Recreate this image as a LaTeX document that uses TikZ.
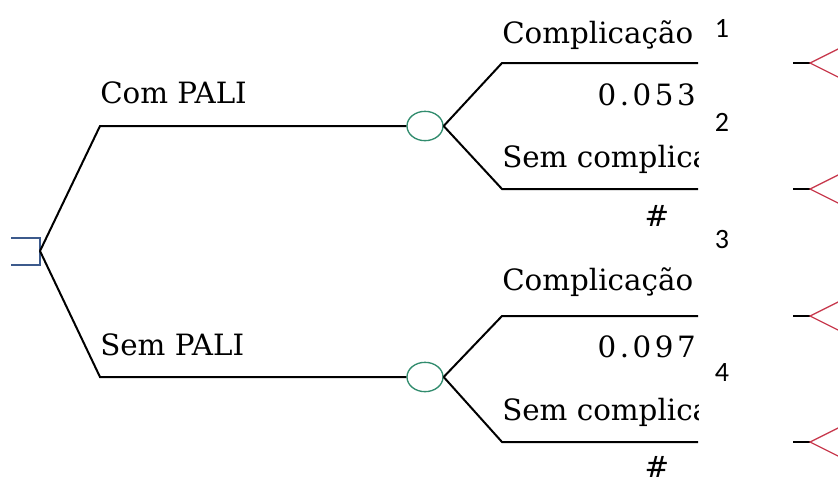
\documentclass[tikz,border=0pt]{standalone}
\usepackage{fontspec}
\setmainfont{DejaVu Serif}
\newfontfamily\numfont{Carlito}
\usetikzlibrary{shapes.geometric}
\definecolor{decblue}{RGB}{60,90,140}
\definecolor{chgreen}{RGB}{50,140,110}
\definecolor{endred}{RGB}{200,60,80}

\tikzset{
  branch/.style={line width=1.5pt},
  chance/.style={draw=chgreen, ellipse, line width=1pt, minimum width=27pt, minimum height=22pt, inner sep=0pt},
  endtri/.style={draw=endred, line width=1pt},
  lbl/.style={font=\fontsize{22}{24}\selectfont, inner sep=0pt},
  prob/.style={font=\fontsize{22}{24}\selectfont\addfontfeature{LetterSpace=12}, inner sep=0pt},
  num/.style={font=\numfont\fontsize{21}{23}\selectfont, inner sep=0pt},
}

\begin{document}
\begin{tikzpicture}[x=0.75pt,y=-0.75pt]
		%%%%% START %%%%%
		\useasboundingbox (0,0) rectangle (838,483);
		
		% decision node
		\coordinate (dec) at (40,251);
		\draw[decblue, line width=1pt] (11,238) -- (40,238) -- (40,265) -- (11,265);
		
		% com PALI
		\coordinate (com) at (100,126);
		\node[chance] (ch1) at (425,126) {};
		\draw[branch] (dec) -- (com) -- (ch1.west);
		\node[lbl, anchor=base west] (lcom) at (100,103) {Com PALI};
		
		% sem PALI
		\coordinate (sem) at (100,377);
		\node[chance] (ch2) at (425,377) {};
		\draw[branch] (dec) -- (sem) -- (ch2.west);
		\node[lbl, anchor=base west] (lsem) at (100,355) {Sem PALI};
		
		% branches of the chance nodes
		\coordinate (b1) at (502,63);
		\coordinate (b1e) at (698,63);
		\coordinate (b2) at (502,189);
		\coordinate (b2e) at (698,189);
		\coordinate (b3) at (502,316);
		\coordinate (b3e) at (698,316);
		\coordinate (b4) at (502,442);
		\coordinate (b4e) at (698,442);
		\draw[branch] (ch1.east) -- (b1) -- (b1e);
		\draw[branch] (ch1.east) -- (b2) -- (b2e);
		\draw[branch] (ch2.east) -- (b3) -- (b3e);
		\draw[branch] (ch2.east) -- (b4) -- (b4e);
		
		\begin{scope}
			\clip (480,0) rectangle (698,483);
			\node[lbl, anchor=base west] (c1) at (502,43) {Complicação};
			\node[prob, anchor=base east] (p1) at (696,105) {0.053};
			\node[lbl, anchor=base west] (s1) at (502,167) {Sem complicação};
			\node[lbl] (h1) at (657,216) {\#};
			\node[lbl, anchor=base west] (c2) at (502,290) {Complicação};
			\node[prob, anchor=base east] (p2) at (696,357) {0.097};
			\node[lbl, anchor=base west] (s2) at (502,420) {Sem complicação};
			\node[lbl] (h2) at (657,467) {\#};
		\end{scope}
		
		% numbers
		\node[num] (n1) at (722,28) {1};
		\node[num] (n2) at (722,122) {2};
		\node[num] (n3) at (722,240) {3};
		\node[num] (n4) at (722,373) {4};
		
		% terminal nodes
		\coordinate (t1) at (810,63);
		\coordinate (t2) at (810,189);
		\coordinate (t3) at (810,316);
		\coordinate (t4) at (810,442);
		\draw[branch] (793,63) -- (t1);
		\draw[branch] (793,189) -- (t2);
		\draw[branch] (793,316) -- (t3);
		\draw[branch] (793,442) -- (t4);
		\draw[endtri] (840,48) -- (t1) -- (840,78);
		\draw[endtri] (840,174) -- (t2) -- (840,204);
		\draw[endtri] (840,301) -- (t3) -- (840,331);
		\draw[endtri] (840,427) -- (t4) -- (840,457);
		
		%%%%% END %%%%%
	\end{tikzpicture}
\end{document}
